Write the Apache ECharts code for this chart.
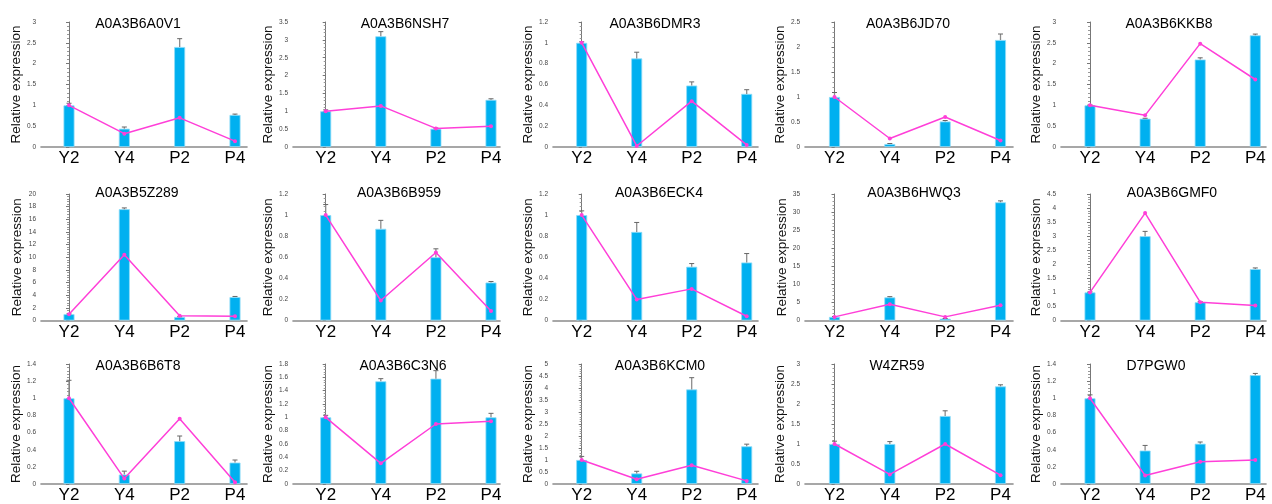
<!DOCTYPE html>
<html><head><meta charset="utf-8">
<script src="https://cdn.jsdelivr.net/npm/echarts@6/dist/echarts.min.js"></script>
<style>html,body{margin:0;padding:0;background:#fff}#c{width:1272px;height:504px}</style>
</head><body><div id="c"></div>
<script>
// ---------- DATA ----------
const categories = ['Y2', 'Y4', 'P2', 'P4'];
const genes = ['A0A3B6A0V1','A0A3B6NSH7','A0A3B6DMR3','A0A3B6JD70','A0A3B6KKB8',
               'A0A3B5Z289','A0A3B6B959','A0A3B6ECK4','A0A3B6HWQ3','A0A3B6GMF0',
               'A0A3B6B6T8','A0A3B6C3N6','A0A3B6KCM0','W4ZR59','D7PGW0'];
const barValues = [
  [1.0, 0.44, 2.40, 0.77], [1.0, 3.10, 0.51, 1.32], [1.0, 0.85, 0.59, 0.51], [1.0, 0.06, 0.51, 2.14], [1.0, 0.68, 2.10, 2.68],
  [1.0, 17.6, 0.55, 3.7],  [1.0, 0.87, 0.60, 0.36], [1.0, 0.84, 0.51, 0.55], [1.0, 6.4, 0.5, 32.7],   [1.0, 3.0, 0.65, 1.83],
  [1.0, 0.11, 0.50, 0.25], [1.0, 1.54, 1.58, 1.0],  [1.0, 0.44, 3.94, 1.57], [1.0, 1.0, 1.70, 2.44],  [1.0, 0.39, 0.47, 1.27]
];
const errValues = [
  [0.05, 0.04, 0.20, 0.02], [0.04, 0.13, 0.02, 0.03], [0.01, 0.06, 0.035, 0.04], [0.09, 0.01, 0.02, 0.12], [0.01, 0.01, 0.04, 0.03],
  [0.05, 0.2, 0.05, 0.1],   [0.10, 0.08, 0.08, 0.01], [0.04, 0.09, 0.03, 0.085], [0.1, 0.2, 0.05, 0.4],    [0.02, 0.17, 0.02, 0.04],
  [0.21, 0.04, 0.06, 0.03], [0.03, 0.04, 0.12, 0.06], [0.15, 0.09, 0.49, 0.09],  [0.07, 0.06, 0.13, 0.04], [0.04, 0.06, 0.02, 0.02]
];
const lineValues = [
  [1.0, 0.32, 0.70, 0.14], [1.0, 1.15, 0.52, 0.58], [1.0, 0.01, 0.44, 0.02], [1.0, 0.17, 0.60, 0.13], [1.0, 0.76, 2.48, 1.62],
  [1.0, 10.4, 0.75, 0.68], [1.0, 0.19, 0.645, 0.09], [1.0, 0.2, 0.3, 0.04], [1.0, 4.5, 1.0, 4.2],   [1.0, 3.82, 0.65, 0.53],
  [1.0, 0.063, 0.76, 0.02], [1.0, 0.31, 0.90, 0.94], [1.0, 0.2, 0.78, 0.13], [1.0, 0.24, 1.0, 0.22], [1.0, 0.10, 0.26, 0.28]
];
const yMaxes = [3, 3.5, 1.2, 2.5, 3,  20, 1.2, 1.2, 35, 4.5,  1.4, 1.8, 5, 3, 1.4];
const yIntervals = [0.5, 0.5, 0.2, 0.5, 0.5,  2, 0.2, 0.2, 5, 0.5,  0.2, 0.2, 0.5, 0.5, 0.2];
const yAxisTitle = 'Relative expression';

// ---------- LAYOUT ----------
const colLayout = [
  { left: 41,  c0: 69,    c3: 235,    right: 247,  nameGap: 17 },
  { left: 293, c0: 325.7, c3: 491,    right: 500,  nameGap: 13 },
  { left: 553, c0: 581.7, c3: 746.7,  right: 758,  nameGap: 17.5 },
  { left: 805, c0: 834.5, c3: 1000.5, right: 1013, nameGap: 13 },
  { left: 1061, c0: 1090, c3: 1255.3, right: 1266, nameGap: 15 }
];
const rowLayout = [
  { top: 22,  bottom: 147, titleTop: 12 },
  { top: 194, bottom: 320.5, titleTop: 181 },
  { top: 364, bottom: 489, titleTop: 354 }
];
const titleX = [133, 400, 650, 903, 1164,  132, 394, 654, 909, 1167,  133, 398, 655, 892, 1151];

const FONT = '"Liberation Sans", Arial, sans-serif';
const BAR = '#00B0F0', LINE = '#ff3fd8';

const grids = [], xAxes = [], yAxes = [], series = [], titles = [];
genes.forEach((g, i) => {
  const r = Math.floor(i / 5), c = i % 5;
  const cl = colLayout[c], rl = rowLayout[r];
  const left = cl.left;
  const s = (cl.c3 - cl.c0) / 3;
  const xmin = -(cl.c0 - left) / s;
  const xmax = 3 + (cl.right - cl.c3) / s;
  grids.push({ left: left, top: rl.top, width: cl.right - left, height: rl.bottom - rl.top });
  titles.push({ text: g, left: titleX[i], top: rl.titleTop, textAlign: 'center',
    textStyle: { fontFamily: FONT, fontSize: 14, fontWeight: 'normal', color: '#000' } });
  xAxes.push({
    type: 'value', gridIndex: i, min: xmin, max: xmax,
    axisLine: { show: true, onZero: false, lineStyle: { color: '#8a8a8a', width: 1.6 } },
    axisTick: { show: false }, splitLine: { show: false },
    axisLabel: { customValues: [0, 1, 2, 3], formatter: v => categories[Math.round(v)] || '',
      fontFamily: FONT, fontSize: 17, color: '#000', margin: 3 }
  });
  yAxes.push({
    type: 'value', gridIndex: i, min: 0, max: yMaxes[i], interval: yIntervals[i],
    name: yAxisTitle, nameLocation: 'middle', nameGap: cl.nameGap, nameRotate: 90,
    nameTextStyle: { fontFamily: FONT, fontSize: 13.5, color: '#111' },
    axisLine: { show: true, lineStyle: { color: '#777', width: 1 } },
    axisTick: { show: true, length: 3, lineStyle: { color: '#777' } },
    minorTick: { show: true, splitNumber: 5, length: 2, lineStyle: { color: '#999' } },
    splitLine: { show: false },
    axisLabel: { fontFamily: FONT, fontSize: 6.5, color: '#444', margin: 5 }
  });
  series.push({
    type: 'bar', xAxisIndex: i, yAxisIndex: i, barWidth: 11, z: 2,
    itemStyle: { color: BAR, borderColor: '#8fdcf8', borderWidth: 0.8 },
    data: barValues[i].map((v, k) => [k, v]), silent: true, animation: false
  });
  series.push({
    type: 'custom', xAxisIndex: i, yAxisIndex: i, z: 3, animation: false, silent: true,
    encode: { x: 0, y: 1 },
    data: barValues[i].map((v, k) => [k, v, errValues[i][k]]),
    renderItem: (params, api) => {
      const x = api.value(0), v = api.value(1), e = api.value(2);
      const p0 = api.coord([x, v]), p1 = api.coord([x, v + e]);
      return { type: 'group', children: [
        { type: 'line', shape: { x1: p0[0], y1: p0[1], x2: p1[0], y2: p1[1] }, style: { stroke: '#8c8c8c', lineWidth: 1.3 } },
        { type: 'line', shape: { x1: p1[0] - 2.5, y1: p1[1], x2: p1[0] + 2.5, y2: p1[1] }, style: { stroke: '#666', lineWidth: 1 } }
      ] };
    }
  });
  series.push({
    type: 'line', xAxisIndex: i, yAxisIndex: i, z: 4, animation: false, silent: true,
    symbol: 'circle', symbolSize: 4,
    lineStyle: { color: LINE, width: 1.5 }, itemStyle: { color: LINE },
    data: lineValues[i].map((v, k) => [k, v])
  });
});

const chart = echarts.init(document.getElementById('c'), null, { renderer: 'canvas' });
chart.setOption({
  backgroundColor: '#fff', animation: false,
  title: titles, grid: grids, xAxis: xAxes, yAxis: yAxes, series: series
});
</script>
</body></html>
